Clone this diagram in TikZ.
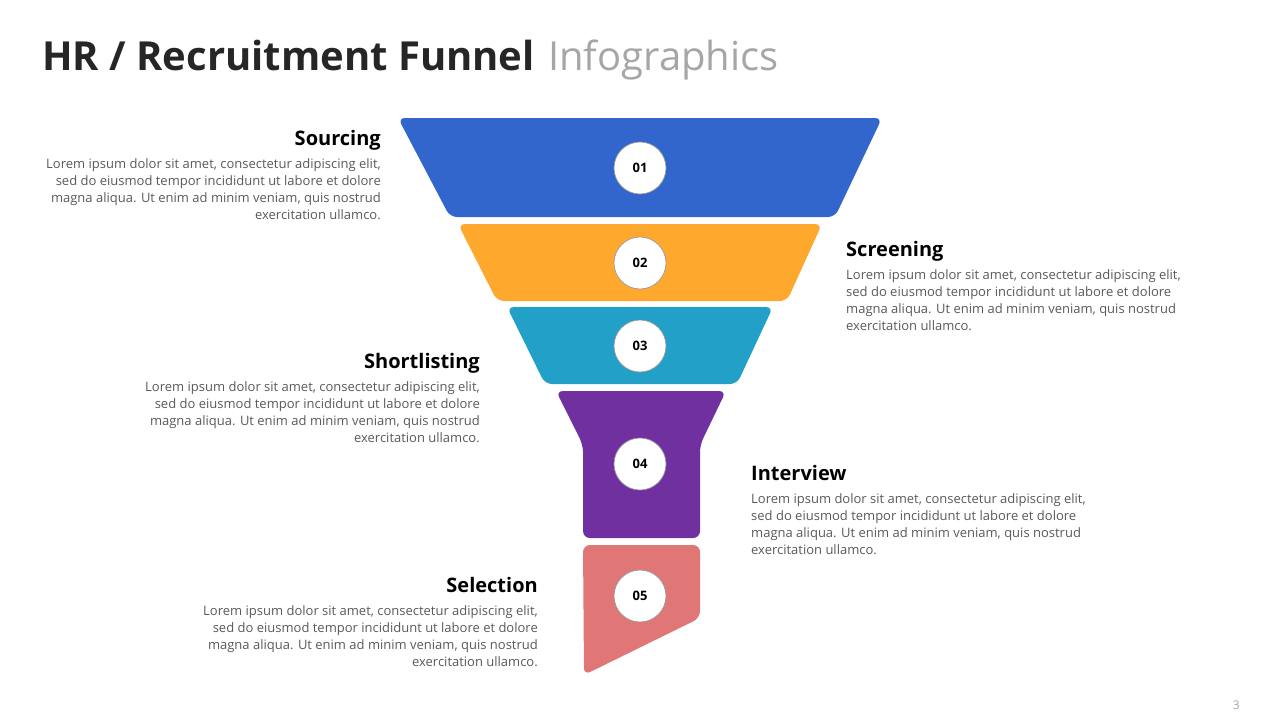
\documentclass[tikz,border=0pt]{standalone}
\usepackage{fontspec}
\setmainfont{Open Sans}
\usepackage{xcolor}
\usepackage{tikz}
\usetikzlibrary{positioning}
\definecolor{cBlue}{RGB}{51,102,204}
\definecolor{cOrange}{RGB}{255,168,46}
\definecolor{cTeal}{RGB}{34,160,200}
\definecolor{cPurple}{RGB}{112,48,160}
\definecolor{cSalmon}{RGB}{224,118,118}
\definecolor{cText}{RGB}{89,89,89}
\definecolor{cDark}{RGB}{38,38,38}
\definecolor{cLight}{RGB}{166,166,166}
\newcommand{\stagetext}{Lorem ipsum dolor sit amet, consectetur adipiscing elit,\\ sed do eiusmod tempor incididunt ut labore et dolore\\ magna aliqua. Ut enim ad minim veniam, quis nostrud\\ exercitation ullamco.}
\tikzset{
	stage/.style   ={rounded corners=7pt},
	numdot/.style  ={circle, draw=gray!80, line width=0.7pt, fill=white, minimum size=52pt, inner sep=0pt, font=\fontsize{13}{15}\selectfont\bfseries, text=black},
	headR/.style   ={anchor=base east, inner sep=0pt, font=\fontsize{20}{24}\selectfont\bfseries, text=black},
	headL/.style   ={anchor=base west, inner sep=0pt, font=\fontsize{20}{24}\selectfont\bfseries, text=black},
	bodyR/.style   ={align=right, inner sep=0pt, font=\fontsize{13}{17}\selectfont, text=cText},
	bodyL/.style   ={align=left, inner sep=0pt, font=\fontsize{13}{17}\selectfont, text=cText},
}
\begin{document}
\begin{tikzpicture}[x=1pt, y=-1pt, node distance=13.5pt and 0pt]
	\useasboundingbox (0,0) rectangle (1280,720);
	% title
	\node[anchor=base west, inner sep=0pt, font=\fontsize{40}{46}\selectfont\bfseries, text=cDark] (ttl) at (42,70) {HR / Recruitment Funnel};
	\node[anchor=base west, inner sep=0pt, font=\fontsize{40}{46}\selectfont, text=cLight] (ttl2) at ([xshift=13pt]ttl.base east) {Infographics};
	% funnel
	\fill[stage, cBlue]   (398,118) -- (882,118) -- (835,217) -- (450,217) -- cycle;
	\fill[stage, cOrange] (458,224) -- (822,224) -- (787,301) -- (497,301) -- cycle;
	\fill[stage, cTeal]   (507,307) -- (773,307) -- (737,384) -- (545,384) -- cycle;
	\fill[stage, cPurple] (556,391) -- (726,391) -- (700,445) -- (700,538) -- (583,538) -- (583,445) -- cycle;
	\fill[stage, cSalmon] (583,545) -- (700,545) -- (700,618) -- (584,675) -- cycle;
	\node[numdot] (n1) at (640,168) {01};
	\node[numdot] (n2) at (640,263) {02};
	\node[numdot] (n3) at (640,346) {03};
	\node[numdot] (n4) at (640,464) {04};
	\node[numdot] (n5) at (640,596) {05};
	% labels
	\node[headR] (h1) at (381,145) {Sourcing};
	\node[bodyR, below left=of h1.base east] (b1) {\stagetext};
	\node[headL] (h2) at (846,256) {Screening};
	\node[bodyL, below right=of h2.base west] (b2) {\stagetext};
	\node[headR] (h3) at (480,368) {Shortlisting};
	\node[bodyR, below left=of h3.base east] (b3) {\stagetext};
	\node[headL] (h4) at (751,480) {Interview};
	\node[bodyL, below right=of h4.base west] (b4) {\stagetext};
	\node[headR] (h5) at (538,592) {Selection};
	\node[bodyR, below left=of h5.base east] (b5) {\stagetext};
	\node[anchor=base east, inner sep=0pt, font=\fontsize{12}{14}\selectfont, text=cLight] (pg) at (1240,709) {3};
\end{tikzpicture}
\end{document}
